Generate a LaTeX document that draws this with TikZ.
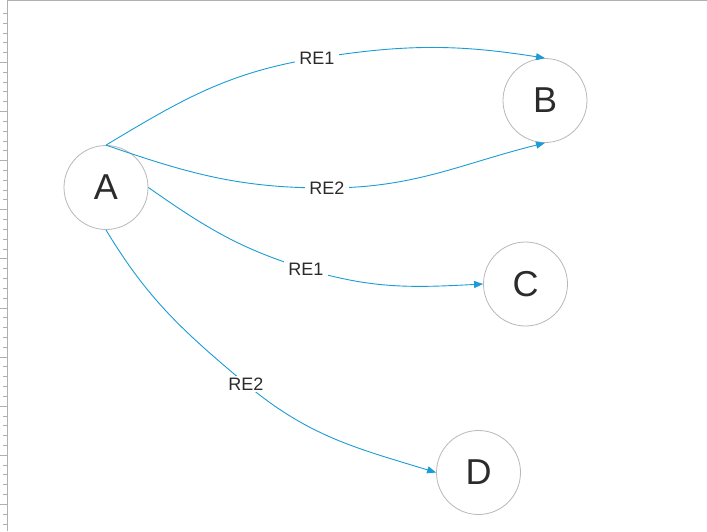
\documentclass[tikz,border=0pt]{standalone}
\usepackage{fontspec}
\setmainfont{Liberation Sans}
\usetikzlibrary{arrows.meta}
\definecolor{edgeblue}{HTML}{1A9CD6}
\definecolor{ringgray}{HTML}{B8B8B8}
\definecolor{txt}{HTML}{2B2B2B}
\definecolor{rulergray}{HTML}{B0B0B0}
\begin{document}
\begin{tikzpicture}[x=1pt,y=-1pt,
  state/.style={circle,draw=ringgray,line width=0.8pt,minimum size=84pt,inner sep=0pt,
    text=txt,font=\fontsize{36}{40}\selectfont},
  edge/.style={draw=edgeblue,line width=0.9pt,-{Triangle[length=9pt,width=7pt]}},
  lbl/.style={fill=white,text=txt,inner xsep=4pt,inner ysep=1.5pt,font=\fontsize{18}{20}\selectfont},
  tick/.style={draw=rulergray,line width=0.8pt}]
\useasboundingbox (0,0) rectangle (707,531);
\fill[white] (0,0) rectangle (707,531);
% ruler and top border
\draw[tick] (7.3,0) -- (7.3,531);
\draw[tick] (7.3,0.6) -- (707,0.6);
\foreach \k in {0,...,52}{
  \pgfmathsetmacro{\yy}{13.3+9.82*\k}
  \draw[tick] (2.7,\yy) -- (7.3,\yy);
}
\foreach \k in {0,...,9}{
  \pgfmathsetmacro{\yy}{62.4+49.1*\k}
  \draw[tick] (0,\yy) -- (7.3,\yy);
}
% nodes
\node[state] (A) at (106,187.5) {A};
\node[state] (B) at (545,100.5) {B};
\node[state] (C) at (525.5,284) {C};
\node[state] (D) at (478.5,472.5) {D};
% label anchors
\coordinate (m1) at (317,58);
\coordinate (m2) at (327,188);
\coordinate (m3) at (306,269);
\coordinate (m4) at (246,384);
% connectors
\draw[edge] (A.north) to[out=31,in=189] (m1) to[out=9,in=171] (B.north);
\draw[edge] (A.north) to[out=-19,in=180] (m2) to[out=0,in=-166] (B.south);
\draw[edge] (A.east) to[out=-35,in=163] (m3) to[out=-17,in=183] (C.west);
\draw[edge] (A.south) to[out=-59,in=140] (m4) to[out=-40,in=163] (D.west);
% labels
\node[lbl] (l1) at (m1) {RE1};
\node[lbl] (l2) at (m2) {RE2};
\node[lbl] (l3) at (m3) {RE1};
\node[lbl] (l4) at (m4) {RE2};
\end{tikzpicture}
\end{document}
